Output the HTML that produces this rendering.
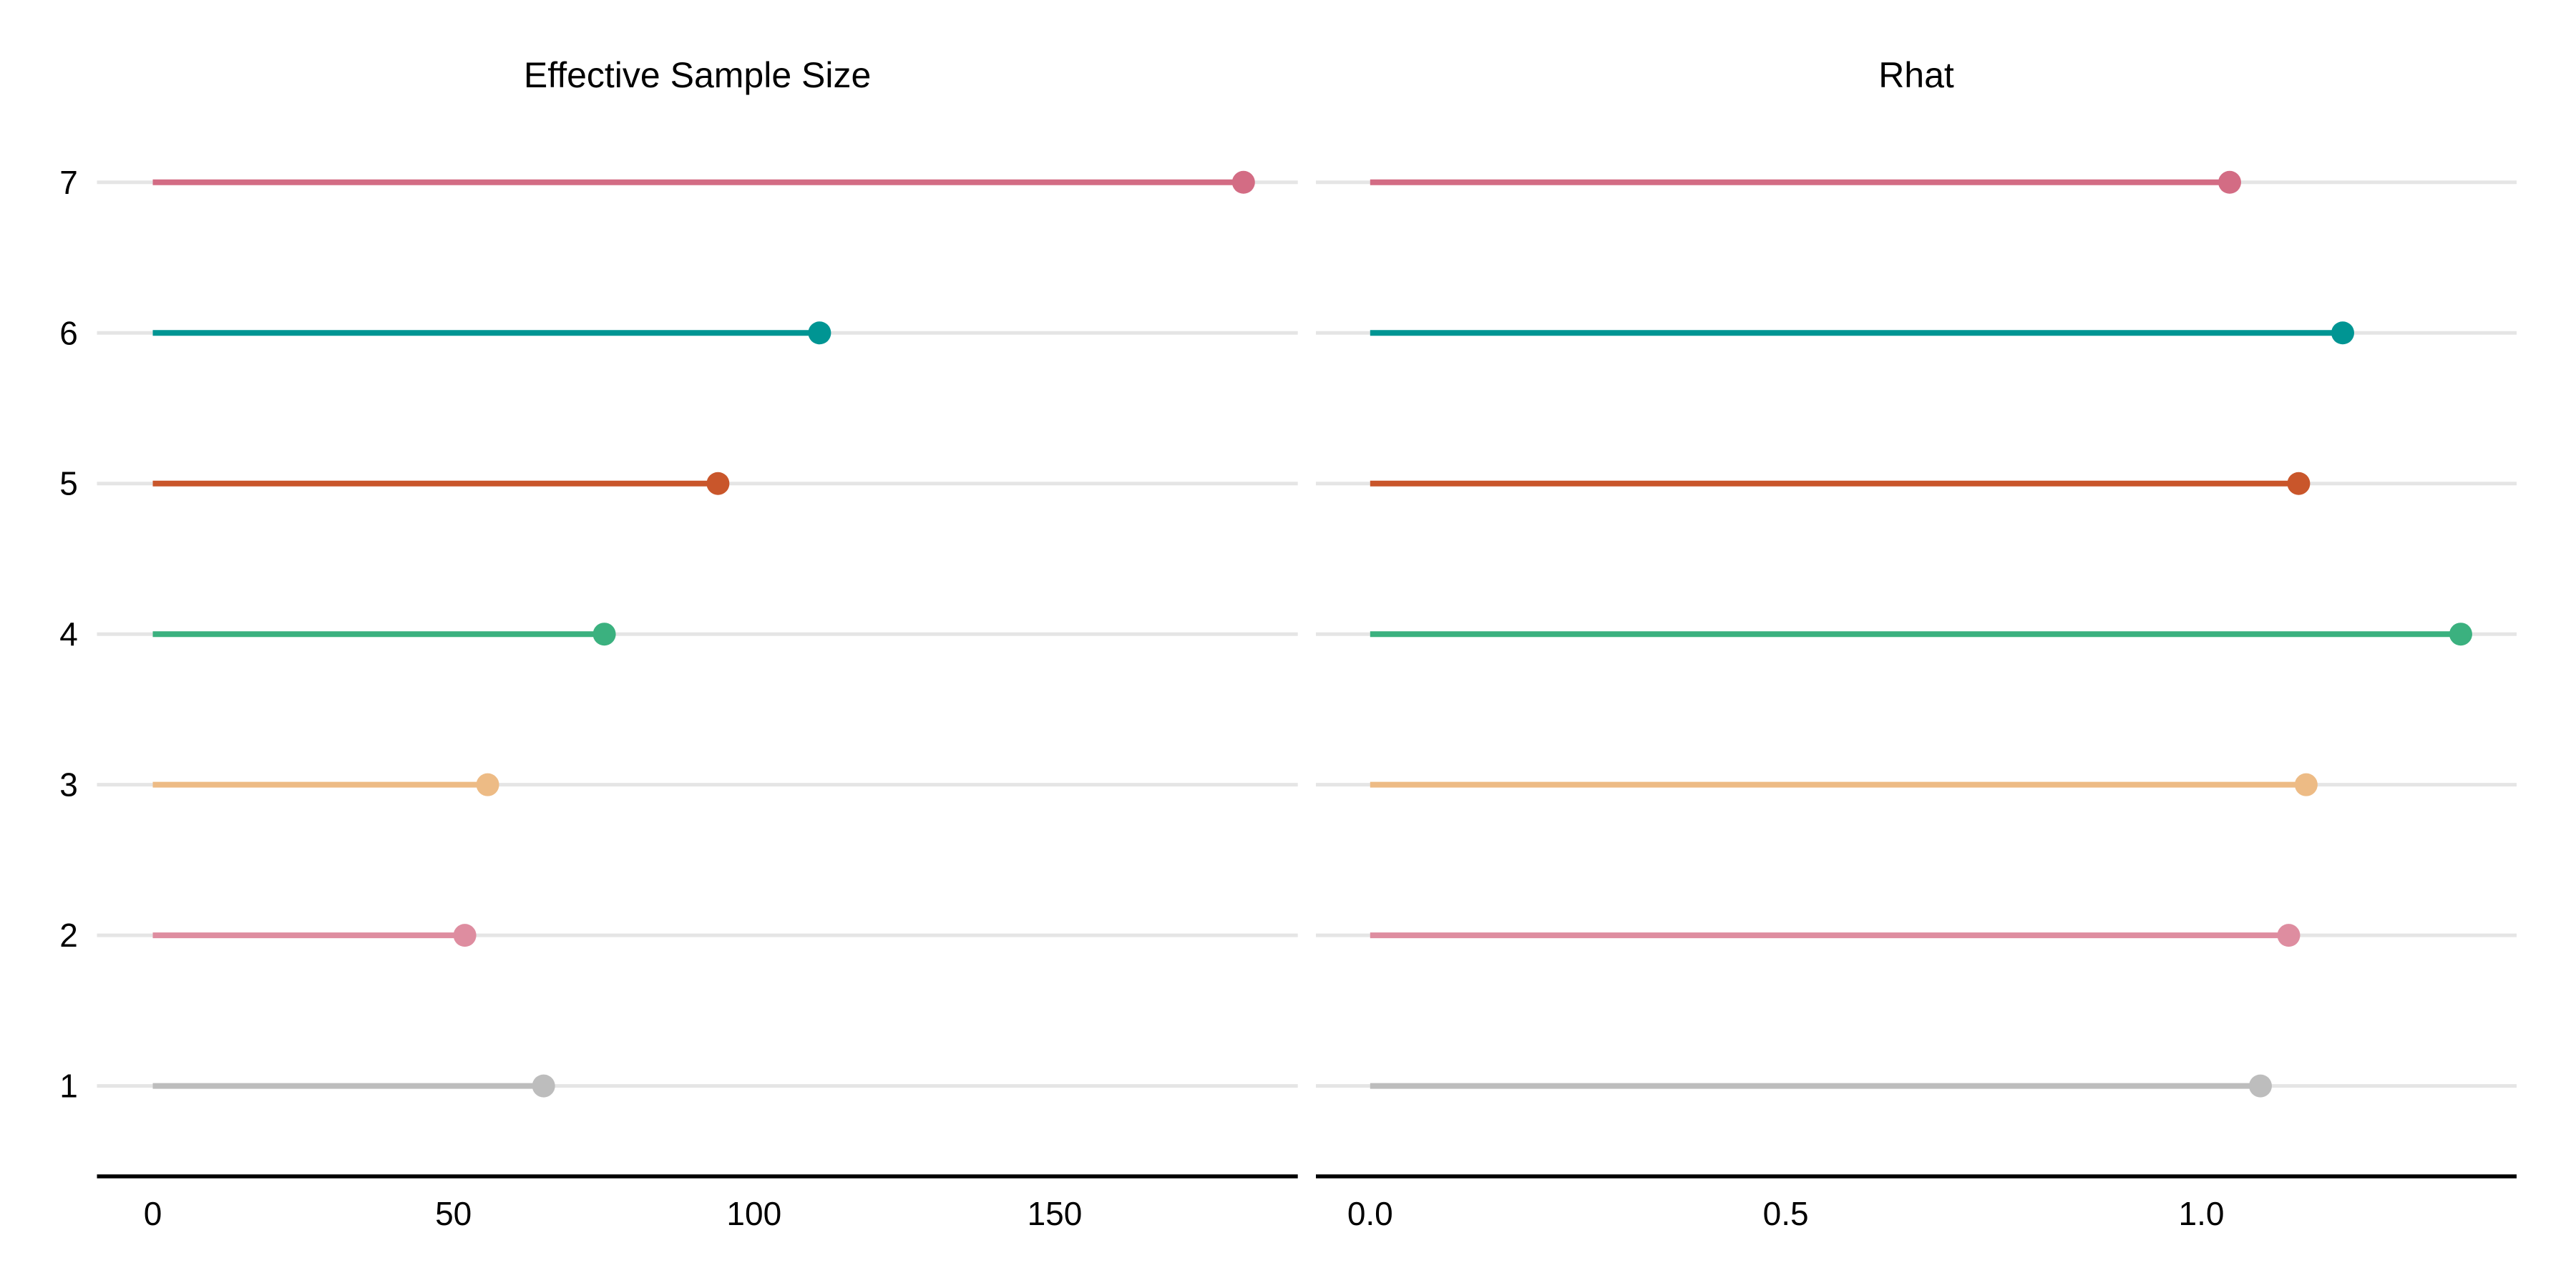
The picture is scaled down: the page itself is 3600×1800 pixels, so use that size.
<!DOCTYPE html>
<html><head><meta charset="utf-8"><style>
html,body{margin:0;padding:0;background:#fff}
svg{display:block;font-family:"Liberation Sans","DejaVu Sans",sans-serif}
</style></head><body>
<svg id="chart" width="3600" height="1800" viewBox="0 0 3600 1800" xmlns="http://www.w3.org/2000/svg"></svg>
<script>
const categories = [1,2,3,4,5,6,7];
const essValues = [65.0, 51.9, 55.7, 75.1, 94.0, 110.9, 181.4];
const rhatValues = [1.071, 1.105, 1.126, 1.312, 1.117, 1.170, 1.034];
const essTicks = [0, 50, 100, 150];
const essTickLabels = ["0","50","100","150"];
const rhatTicks = [0, 0.5, 1.0];
const rhatTickLabels = ["0.0","0.5","1.0"];
const colors = ["#bdbdbd","#de8da0","#edbb85","#3bb17f","#c9562b","#009593","#d36c84"];

const NS = "http://www.w3.org/2000/svg";
const svg = document.getElementById("chart");
function mk(tag, attrs, parent){
  const e = document.createElementNS(NS, tag);
  for (const k in attrs) e.setAttribute(k, attrs[k]);
  (parent||svg).appendChild(e);
  return e;
}
function yScale(c){ return 1517.6 - (c-1)*210.47; }

const panels = [
  {name:"ess", title:"Effective Sample Size", x1:135.5, x2:1813.7, x0:213.5, k:8.403, vals:essValues, ticks:essTicks, labels:essTickLabels},
  {name:"rhat", title:"Rhat", x1:1839, x2:3517, x0:1914.8, k:1161.7, vals:rhatValues, ticks:rhatTicks, labels:rhatTickLabels}
];

panels.forEach(p => {
  const g = mk("g", {});
  
  
  const xs = v => p.x0 + v*p.k;
  const t = mk("text", {x:(p.x1+p.x2)/2, y:122, "text-anchor":"middle", "font-size":"50", fill:"#000"}, g);
  t.textContent = p.title;
  
  
  categories.forEach((c,i) => {
    const y = yScale(c);
    const gl = mk("line", {x1:p.x1, x2:p.x2, y1:y, y2:y, stroke:"#e5e5e5", "stroke-width":"5"}, g);
    
    
    const ln = mk("line", {x1:xs(0), x2:xs(p.vals[i]), y1:y, y2:y, stroke:colors[i], "stroke-width":"8"}, g);
    
    
    const dot = mk("circle", {cx:xs(p.vals[i]), cy:y, r:"16", fill:colors[i]}, g);
    
    
  });
  const ax = mk("line", {x1:p.x1, x2:p.x2, y1:1644, y2:1644, stroke:"#000", "stroke-width":"5.5"}, g);
  
  
  p.ticks.forEach((tv,j) => {
    const tl = mk("text", {x:xs(tv), y:1712, "text-anchor":"middle", "font-size":"46", fill:"#000"}, g);
    tl.textContent = p.labels[j];
    
    
  });
});

categories.forEach(c => {
  const yl = mk("text", {x:96, y:yScale(c)+16, "text-anchor":"middle", "font-size":"46", fill:"#000"});
  yl.textContent = String(c);
  
  
});
</script>
</body></html>
